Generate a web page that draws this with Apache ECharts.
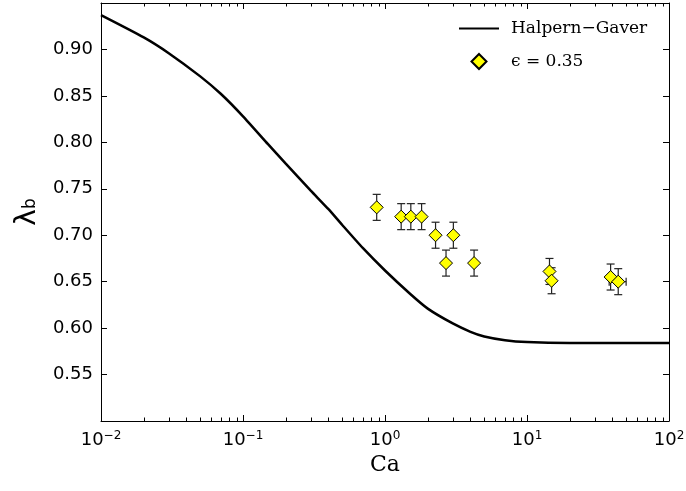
<!DOCTYPE html>
<html><head><meta charset="utf-8">
<script src="https://cdn.jsdelivr.net/npm/echarts/dist/echarts.min.js"></script>
<style>html,body{margin:0;padding:0;background:#fff}#c{width:686px;height:491px}</style>
</head><body><div id="c"></div>
<script>
// Halpern–Gaver curve (Ca, lambda_b)
const curveCa     = [0.01, 0.02, 0.03, 0.05, 0.07, 0.1, 0.15, 0.2, 0.3, 0.4, 0.5, 0.7, 1, 1.5, 2, 3, 4, 5, 7, 10, 20, 100];
const curveLambda = [0.937, 0.913, 0.896, 0.871, 0.852, 0.828, 0.798, 0.777, 0.748, 0.728, 0.711, 0.686, 0.662, 0.637, 0.621, 0.605, 0.596, 0.591, 0.587, 0.585, 0.584, 0.584];
// Experimental points epsilon = 0.35
const pointCa     = [0.874, 1.30, 1.52, 1.81, 2.27, 2.69, 3.03, 4.24, 14.4, 14.9, 38.8, 43.9];
const pointLambda = [0.730, 0.720, 0.720, 0.720, 0.700, 0.670, 0.700, 0.670, 0.661, 0.651, 0.655, 0.650];
const pointYErr   = [0.014, 0.014, 0.014, 0.014, 0.014, 0.014, 0.014, 0.014, 0.014, 0.014, 0.014, 0.014];
const pointXErr   = [0, 0, 0, 0, 0, 0, 0, 0, 0, 0, 0, 6];
// tick labels
const xTickExponents = [-2, -1, 0, 1, 2];
const yTickLabels = ['0.55', '0.60', '0.65', '0.70', '0.75', '0.80', '0.85', '0.90'];
const minorMultipliers = [2, 3, 4, 5, 6, 7, 8, 9];
const decades = [0.01, 0.1, 1, 10];

const minorVals = [];
decades.forEach(d => minorMultipliers.forEach(m => minorVals.push(+(d * m).toPrecision(3))));

const X_MIN = 0.01, X_MAX = 100, Y_MIN = 0.5, Y_MAX = 0.95;

const chart = echarts.init(document.getElementById('c'), null, {renderer: 'canvas'});
const axisLineStyle = {color: '#000', width: 1};
const sans = 'DejaVu Sans';
const serif = 'DejaVu Serif';

const option = {
  backgroundColor: '#fff',
  animation: false,
  grid: {left: 101, right: 17, top: 3, bottom: 70, containLabel: false, outerBoundsMode: 'none'},
  legend: {
    orient: 'vertical', left: 458, top: 20, padding: 0,
    itemWidth: 40, itemHeight: 15, itemGap: 16, symbolKeepAspect: true,
    textStyle: {fontFamily: serif, fontSize: 17, color: '#000', padding: [0, 0, 0, 7]},
    data: [
      {name: 'Halpern\u2212Gaver', itemStyle: {opacity: 0}},
      {name: '\u03f5 = 0.35', icon: 'path://M0,-1L1,0L0,1L-1,0Z'}
    ]
  },
  xAxis: [{
    type: 'log', logBase: 10, min: X_MIN, max: X_MAX, position: 'bottom',
    name: 'Ca', nameLocation: 'middle', nameGap: 29,
    nameTextStyle: {fontFamily: serif, fontSize: 22, color: '#000'},
    axisLine: {show: true, lineStyle: axisLineStyle},
    axisTick: {show: true, inside: true, length: 6, lineStyle: axisLineStyle},
    splitLine: {show: false},
    axisLabel: {
      margin: 9, color: '#000',
      formatter: v => {
        const e = Math.round(Math.log10(v));
        if (xTickExponents.indexOf(e) < 0) return '';
        return '{b|10}{s|' + (e < 0 ? '\u2212' + (-e) : e) + '}';
      },
      rich: {
        b: {fontFamily: sans, fontSize: 18, color: '#000'},
        s: {fontFamily: sans, fontSize: 12, color: '#000', padding: [0, 0, 9, 0]}
      }
    }
  }, {
    type: 'log', logBase: 10, min: X_MIN, max: X_MAX, position: 'top',
    axisLine: {show: true, lineStyle: axisLineStyle},
    axisTick: {show: true, inside: true, length: 6, lineStyle: axisLineStyle},
    axisLabel: {show: false}, splitLine: {show: false}
  }],
  yAxis: [{
    type: 'value', min: Y_MIN, max: Y_MAX, interval: 0.05, position: 'left',
    name: '{l|\u03bb}{s|b}', nameLocation: 'middle', nameGap: 57, nameRotate: 90,
    nameTextStyle: {
      rich: {
        l: {fontFamily: sans, fontSize: 28, color: '#000'},
        s: {fontFamily: sans, fontSize: 17, color: '#000', padding: [6, 0, 0, 0]}
      }
    },
    axisLine: {show: true, lineStyle: axisLineStyle},
    axisTick: {show: true, inside: true, length: 6, lineStyle: axisLineStyle},
    splitLine: {show: false},
    axisLabel: {
      margin: 8, fontFamily: sans, fontSize: 18, color: '#000',
      formatter: v => {
        const s = v.toFixed(2);
        return yTickLabels.indexOf(s) >= 0 ? s : '';
      }
    }
  }, {
    type: 'value', min: Y_MIN, max: Y_MAX, interval: 0.05, position: 'right',
    axisLine: {show: true, lineStyle: axisLineStyle},
    axisTick: {show: true, inside: true, length: 6, lineStyle: axisLineStyle},
    axisLabel: {show: false}, splitLine: {show: false}
  }],
  series: [
    {
      name: 'minorTicks', type: 'custom', silent: true, z: 1, clip: false,
      xAxisIndex: 0, yAxisIndex: 0,
      data: minorVals.map(v => [v, 0.7]),
      encode: {x: 0, y: 1},
      renderItem: (params, api) => {
        const x = api.value(0);
        const pb = api.coord([x, Y_MIN]);
        const pt = api.coord([x, Y_MAX]);
        const px = Math.round(pb[0]) + 0.5;
        const st = {stroke: '#000', lineWidth: 1};
        return {type: 'group', children: [
          {type: 'line', shape: {x1: px, y1: pb[1], x2: px, y2: pb[1] - 3.5}, style: st},
          {type: 'line', shape: {x1: px, y1: pt[1], x2: px, y2: pt[1] + 3.5}, style: st}
        ]};
      }
    },
    {
      name: 'Halpern\u2212Gaver', type: 'line', z: 2,
      xAxisIndex: 0, yAxisIndex: 0,
      data: curveCa.map((c, i) => [c, curveLambda[i]]),
      symbol: 'none', smooth: 0.2,
      lineStyle: {color: '#000', width: 2.5},
      itemStyle: {color: '#000'}
    },
    {
      name: 'errorbars', type: 'custom', silent: true, z: 3,
      xAxisIndex: 0, yAxisIndex: 0,
      data: pointCa.map((c, i) => [c, pointLambda[i], pointYErr[i], pointXErr[i]]),
      encode: {x: 0, y: 1},
      renderItem: (params, api) => {
        const x = api.value(0), y = api.value(1), ye = api.value(2), xe = api.value(3);
        const top = api.coord([x, y + ye]);
        const bot = api.coord([x, y - ye]);
        const st = {stroke: '#222', lineWidth: 1.2};
        const ch = [
          {type: 'line', shape: {x1: top[0], y1: top[1], x2: bot[0], y2: bot[1]}, style: st},
          {type: 'line', shape: {x1: top[0] - 4, y1: top[1], x2: top[0] + 4, y2: top[1]}, style: st},
          {type: 'line', shape: {x1: bot[0] - 4, y1: bot[1], x2: bot[0] + 4, y2: bot[1]}, style: st}
        ];
        if (xe > 0) {
          const l = api.coord([x - xe, y]);
          const r = api.coord([x + xe, y]);
          ch.push({type: 'line', shape: {x1: l[0], y1: l[1], x2: r[0], y2: r[1]}, style: st});
          ch.push({type: 'line', shape: {x1: l[0], y1: l[1] - 4, x2: l[0], y2: l[1] + 4}, style: st});
          ch.push({type: 'line', shape: {x1: r[0], y1: r[1] - 4, x2: r[0], y2: r[1] + 4}, style: st});
        }
        return {type: 'group', children: ch};
      }
    },
    {
      name: '\u03f5 = 0.35', type: 'scatter', z: 4,
      xAxisIndex: 0, yAxisIndex: 0,
      data: pointCa.map((c, i) => [c, pointLambda[i]]),
      symbol: 'diamond', symbolSize: 13,
      itemStyle: {color: '#ffff00', borderColor: '#000', borderWidth: 1, opacity: 1}
    }
  ]
};
chart.setOption(option);
</script>
</body></html>
